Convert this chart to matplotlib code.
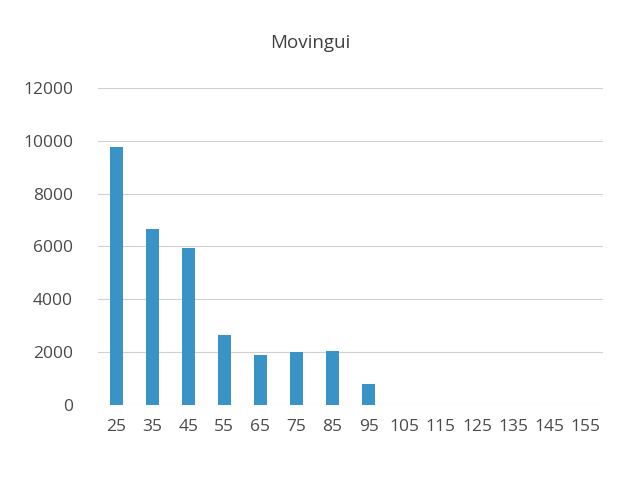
import numpy as np
import matplotlib
matplotlib.use("Agg")
import matplotlib.pyplot as plt

# Datos
categorias = ["25", "35", "45", "55", "65", "75", "85", "95",
              "105", "115", "125", "135", "145", "155"]
valores = [9750, 6650, 5950, 2650, 1900, 2000, 2050, 800,
           0, 0, 0, 0, 0, 0]
titulo = "Movingui"

plt.rcParams['font.family'] = ['Open Sans', 'DejaVu Sans']

fig = plt.figure(figsize=(6.2, 5), dpi=100)
ax = fig.add_axes([0.158, 0.19, 0.815, 0.634])

x = np.arange(len(categorias))
ax.bar(x, valores, width=0.36, color='#3a93c6', zorder=3)

ax.set_xlim(-0.5, len(categorias) - 0.5)
ax.set_ylim(0, 12000)
ax.set_yticks(range(0, 12001, 2000))
ax.set_xticks(x)
ax.set_xticklabels(categorias)

ax.grid(axis='y', color='#d0d0d0', linewidth=0.8, zorder=0)
for s in ax.spines.values():
    s.set_visible(False)
ax.tick_params(length=0, labelsize=12.5, colors='#4a4a4a', pad=10)
ax.tick_params(axis='y', pad=18)

fig.text(0.5, 0.915, titulo, ha='center', va='center', fontsize=13.5, color='#404040')

fig.savefig("out.png", dpi=100, facecolor='white')
